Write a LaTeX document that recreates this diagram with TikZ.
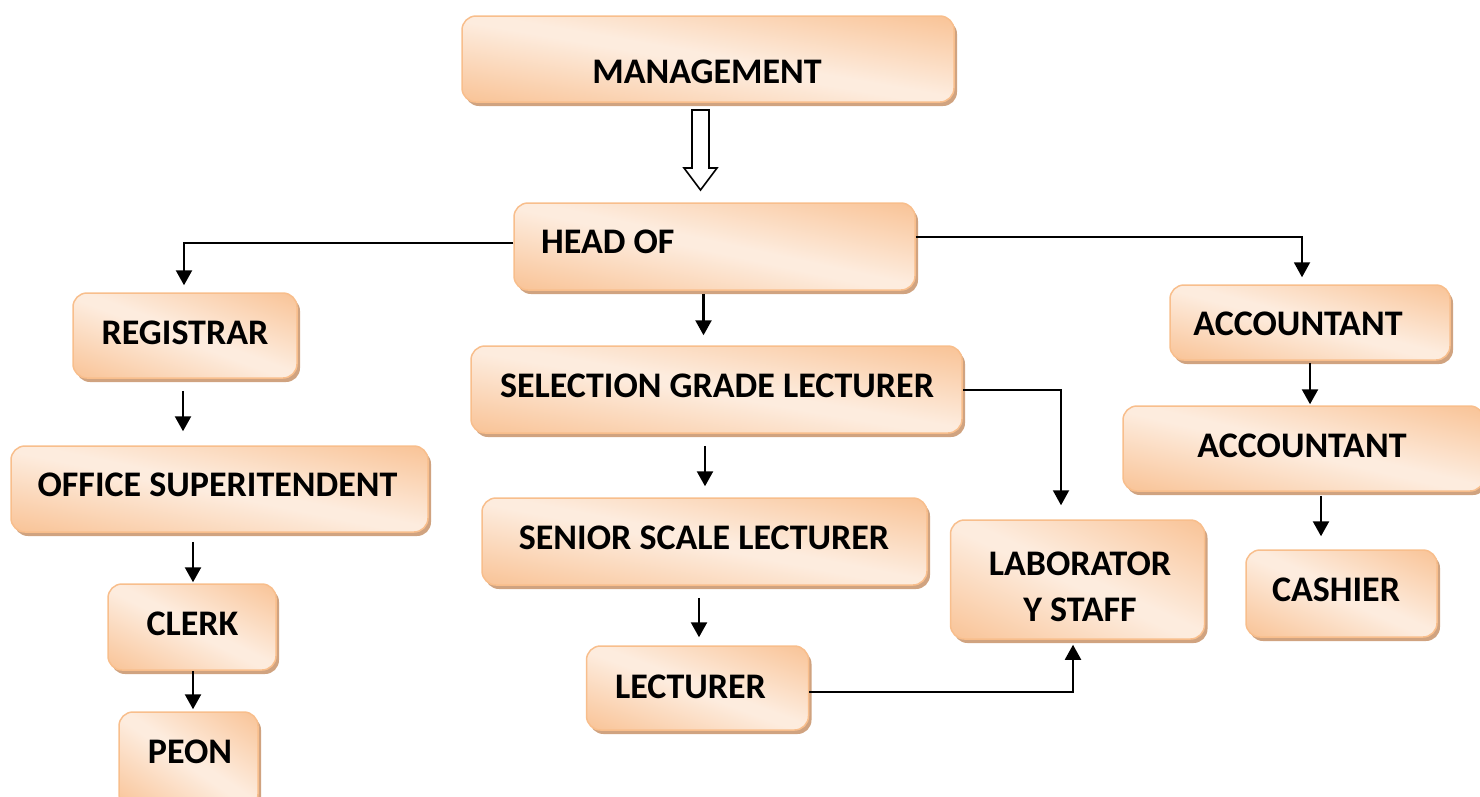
\documentclass[tikz,border=0pt]{standalone}
\usepackage{fontspec}
\setmainfont{Carlito}
\usetikzlibrary{arrows.meta,shadows}
\definecolor{boxor}{RGB}{248,188,138}
\definecolor{boxlt}{RGB}{253,236,222}
\definecolor{boxsh}{RGB}{208,163,128}
\definecolor{boxbd}{RGB}{248,190,140}
\pgfdeclarefunctionalshading{orgdiag}{\pgfpoint{0bp}{0bp}}{\pgfpoint{100bp}{100bp}}{}{
  add 100 sub abs 100 div 0.03 sub 0.55 div
  dup 0 lt {pop 0} if dup 1 gt {pop 1} if
  dup dup -0.3294 mul 0.8706 add exch -0.1882 mul 0.9255 add exch
  3 -1 roll -0.0196 mul 0.9922 add 3 1 roll}
\tikzset{
  orgbox/.style={rounded corners=14pt, draw=boxbd, line width=1.5pt,
    shading=orgdiag,
    drop shadow={shadow xshift=3pt, shadow yshift=-4pt, fill=boxsh, opacity=1},
    inner sep=0pt},
  txt/.style={font=\bfseries\fontsize{36}{46}\selectfont, inner sep=0pt,
    text height=22.7pt, text depth=0pt},
  mtxt/.style={font=\bfseries\fontsize{36}{46}\selectfont, inner sep=0pt, align=center},
  conn/.style={line width=2.4pt, -{Triangle[width=16pt,length=15pt]}},
}
\begin{document}
\begin{tikzpicture}[x=1pt,y=-1pt]
\path[use as bounding box] (0,0) rectangle (1480,796);
\clip (0,0) rectangle (1480,796);
% boxes
\node[orgbox, minimum width=492pt, minimum height=86pt] (mgt) at (708,59) {};
\node[orgbox, minimum width=401pt, minimum height=87pt] (head) at (714.5,246.5) {};
\node[orgbox, minimum width=224pt, minimum height=85pt] (reg) at (185,335.5) {};
\node[orgbox, minimum width=417pt, minimum height=86pt] (osup) at (219.5,489) {};
\node[orgbox, minimum width=168pt, minimum height=86pt] (clerk) at (192,627) {};
\node[orgbox, minimum width=139pt, minimum height=96pt] (peon) at (188.5,760) {};
\node[orgbox, minimum width=491pt, minimum height=87pt] (sel) at (716.5,389.5) {};
\node[orgbox, minimum width=445pt, minimum height=87pt] (ssl) at (704.5,541.5) {};
\node[orgbox, minimum width=222pt, minimum height=84pt] (lect) at (697.5,688) {};
\node[orgbox, minimum width=254pt, minimum height=119pt] (lab) at (1077.5,579.5) {};
\node[orgbox, minimum width=280pt, minimum height=75pt] (acc1) at (1310,322.5) {};
\node[orgbox, minimum width=361pt, minimum height=85pt] (acc2) at (1303.5,448.5) {};
\node[orgbox, minimum width=191pt, minimum height=87pt] (cash) at (1341.5,593.5) {};
% texts
\node[txt] (mgtt) at (707,72.5) {MANAGEMENT};
\node[txt, anchor=west] (headt) at (541,242) {HEAD OF};
\node[txt] (regt) at (185,333.5) {REGISTRAR};
\node[txt] (osupt) at (217.5,485) {OFFICE SUPERITENDENT};
\node[txt] (clerkt) at (192.5,624) {CLERK};
\node[txt] (peont) at (190,752.5) {PEON};
\node[txt] (selt) at (717,386.5) {SELECTION GRADE LECTURER};
\node[txt] (sslt) at (704,538) {SENIOR SCALE LECTURER};
\node[txt] (lectt) at (690.5,687.5) {LECTURER};
\node[mtxt, anchor=north] (labt) at (1080,552) {LABORATOR\\Y STAFF};
\node[txt] (acc1t) at (1298,324) {ACCOUNTANT};
\node[txt] (acc2t) at (1302,446) {ACCOUNTANT};
\node[txt] (casht) at (1336,590) {CASHIER};
% hollow arrow
\draw[line width=1.6pt, fill=white] (692,110) -- (709,110) -- (709,168) -- (717,168) -- (700.5,190) -- (684,168) -- (692,168) -- cycle;
% connectors
\draw[conn, shorten >=7pt] ([yshift=3.5pt]head.west) -| ([xshift=-1pt]reg.north);
\draw[conn, line width=2pt, shorten >=7pt] ([yshift=9.5pt]head.east) -| ([xshift=-8pt]acc1.north);
\draw[conn, shorten <=3pt, shorten >=10pt] ([xshift=-11pt]head.south) -- ([xshift=-11pt]head.south |- sel.north);
\draw[conn, shorten <=12pt, shorten >=14pt] ([xshift=-2pt]reg.south) -- ([xshift=-2pt]reg.south |- osup.north);
\draw[conn, shorten <=9pt, shorten >=1pt] ([xshift=1pt]clerk.north |- osup.south) -- ([xshift=1pt]clerk.north);
\draw[conn, shorten >=2pt] ([xshift=1pt]clerk.south) -- ([xshift=1pt]clerk.south |- peon.north);
\draw[conn, shorten <=12pt, shorten >=11pt] ([xshift=0.5pt]ssl.north |- sel.south) -- ([xshift=0.5pt]ssl.north);
\draw[conn, shorten <=12pt, shorten >=8pt] ([xshift=1.5pt]lect.north |- ssl.south) -- ([xshift=1.5pt]lect.north);
\draw[conn, line width=2pt, shorten >=14pt] (sel.east) -| ([xshift=-16.5pt]lab.north);
\draw[conn, line width=2pt, shorten >=5pt] ([yshift=-4pt]lect.east) -| ([xshift=-4.5pt]lab.south);
\draw[conn, shorten <=2pt, shorten >=1pt] (acc1.south) -- (acc1.south |- acc2.north);
\draw[conn, shorten <=4pt, shorten >=13pt] ([xshift=17.5pt]acc2.south) -- ([xshift=17.5pt]acc2.south |- cash.north);
\end{tikzpicture}
\end{document}
